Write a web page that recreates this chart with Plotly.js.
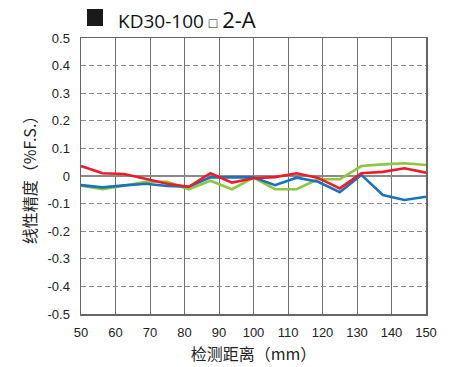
<!DOCTYPE html>
<html>
<head>
<meta charset="utf-8">
<script src="https://cdn.plot.ly/plotly-3.0.1.min.js"></script>
<style>html,body{margin:0;padding:0;background:#fff;}#chart{width:456px;height:367px;}</style>
</head>
<body>
<div id="chart"></div>
<script>
// Detection distance (mm): 17 measurement points
const distance = [50, 56.25, 62.5, 68.75, 75, 81.25, 87.5, 93.75, 100, 106.25, 112.5, 118.75, 125, 131.25, 137.5, 143.75, 150];
const seriesRed   = [0.036, 0.010, 0.007, -0.010, -0.028, -0.039, 0.010, -0.024, -0.008, -0.004, 0.010, -0.007, -0.045, 0.010, 0.015, 0.028, 0.012];
const seriesBlue  = [-0.033, -0.041, -0.034, -0.028, -0.036, -0.039, -0.005, -0.005, -0.005, -0.033, -0.006, -0.021, -0.059, 0.004, -0.069, -0.087, -0.075];
const seriesGreen = [-0.035, -0.048, -0.035, -0.021, -0.021, -0.048, -0.017, -0.048, -0.006, -0.048, -0.048, -0.011, -0.012, 0.036, 0.042, 0.046, 0.040];
const xTicks = [50, 60, 70, 80, 90, 100, 110, 120, 130, 140, 150];
const yTicks = [-0.5, -0.4, -0.3, -0.2, -0.1, 0, 0.1, 0.2, 0.3, 0.4, 0.5];
const yTickText = ["-0.5", "-0.4", "-0.3", "-0.2", "-0.1", "0", "0.1", "0.2", "0.3", "0.4", "0.5"];

const line = (y, color) => ({x: distance, y: y, type: 'scatter', mode: 'lines',
  line: {color: color, width: 2.6}, hoverinfo: 'skip', showlegend: false});

const data = [
  line(seriesGreen, '#8dc63f'),
  line(seriesBlue, '#1a72bb'),
  line(seriesRed, '#ec1c2a')
];

const tickFont = {family: 'Liberation Sans, Arial, sans-serif', size: 13, color: '#222'};
const cjk = 'Noto Sans CJK SC, sans-serif';

const layout = {
  width: 456, height: 367,
  margin: {l: 81, r: 30, t: 38, b: 53},
  paper_bgcolor: '#fff', plot_bgcolor: '#fff',
  xaxis: {
    range: [50, 150], tickvals: xTicks, ticktext: xTicks.map(String),
    showgrid: true, gridcolor: '#707070', gridwidth: 1,
    showline: true, mirror: true, linecolor: '#666', linewidth: 1.5,
    zeroline: false, ticks: '', tickfont: tickFont, ticklabelstandoff: 6,
    title: {text: '检测距离（mm）', font: {family: cjk, size: 16, color: '#222'}, standoff: 9},
    automargin: false
  },
  yaxis: {
    range: [-0.5, 0.5], tickvals: yTicks, ticktext: yTickText,
    showgrid: true, gridcolor: '#8a8a8a', gridwidth: 1, griddash: '5px,3px',
    zeroline: true, zerolinecolor: '#8a8a8a', zerolinewidth: 1.5,
    showline: true, mirror: true, linecolor: '#666', linewidth: 1.5,
    ticks: '', tickfont: tickFont, ticklabelstandoff: 7,
    title: {text: '线性精度（%F.S.）', font: {family: cjk, size: 16, color: '#222'}, standoff: 7},
    automargin: false
  },
  shapes: [
    {type: 'rect', xref: 'paper', yref: 'paper', x0: 0.0174, x1: 0.0638, y0: 1.0435, y1: 1.105,
     fillcolor: '#1a1a1a', line: {width: 0}, layer: 'above'}
  ],
  annotations: [
    {xref: 'paper', yref: 'paper', x: 0.1, y: 1.07, xanchor: 'left', yanchor: 'middle', showarrow: false,
     text: 'KD30-100 <span style="font-size:14px">□</span> <span style="font-size:22px">2-A</span>',
     font: {family: 'Open Sans, Liberation Sans, sans-serif', size: 19, color: '#111'}}
  ]
};

Plotly.newPlot('chart', data, layout, {staticPlot: true, displayModeBar: false});
</script>
</body>
</html>
